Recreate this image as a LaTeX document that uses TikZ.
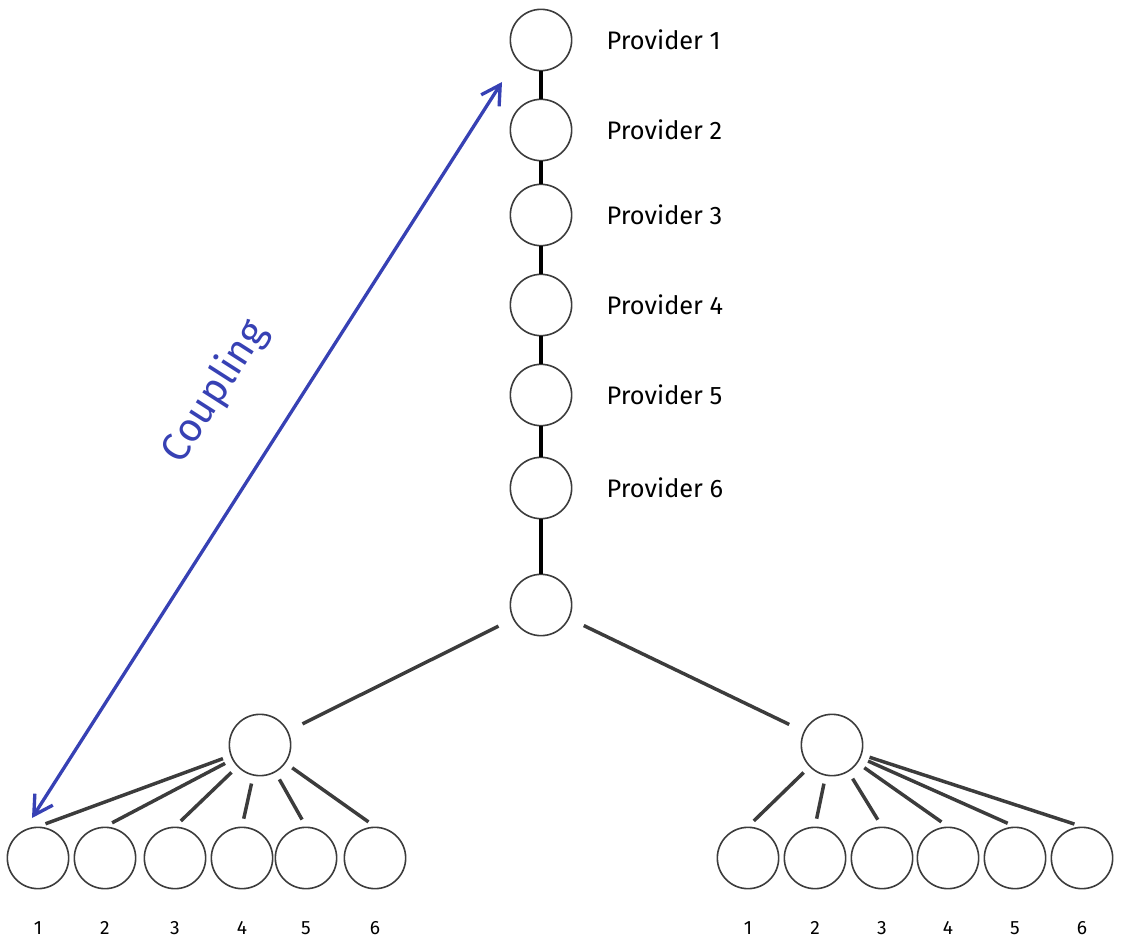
\documentclass[tikz,border=0pt]{standalone}
\usepackage{fontspec}
\setmainfont{Fira Sans}
\usetikzlibrary{arrows.meta}
\definecolor{cblue}{RGB}{55,65,180}
\definecolor{ink}{RGB}{60,60,60}
\begin{document}
\begin{tikzpicture}[x=0.75pt,y=-0.75pt,
  c/.style={circle,draw=ink,line width=1.2pt,minimum size=46pt,inner sep=0pt},
  e/.style={draw=ink,line width=2.6pt,shorten >=6pt,shorten <=6pt},
  lab/.style={anchor=west,font=\fontsize{19}{22}\selectfont},
  num/.style={font=\Large}]
\useasboundingbox (0,0) rectangle (1128,945);
\foreach \i/\y in {1/40,2/130,3/215,4/305,5/395,6/488}{
  \node[c] (p\i) at (541,\y) {};
  \node[lab] (l\i) at (602,\y) {Provider \i};
}
\node[c] (root) at (541,605) {};
\foreach \a/\b in {p1/p2,p2/p3,p3/p4,p4/p5,p5/p6,p6/root}{\draw[draw=black,line width=2.4pt] (\a)--(\b);}
\node[c] (ml) at (260,745) {};
\node[c] (mr) at (832,745) {};
\draw[e,shorten <=12pt,shorten >=12pt] (root)--(ml);
\draw[e,shorten <=12pt,shorten >=12pt] (root)--(mr);
\foreach \i/\x in {1/38,2/105,3/175,4/242,5/306,6/375}{
  \node[c] (a\i) at (\x,858) {};
  \node[num] (na\i) at (\x,928) {\i};
}
\foreach \i/\x in {1/748,2/815,3/882,4/948,5/1015,6/1082}{
  \node[c] (b\i) at (\x,858) {};
  \node[num] (nb\i) at (\x,928) {\i};
}
\foreach \i in {1,...,6}{
  \draw[e] (ml)--(a\i.north);
  \draw[e] (mr)--(b\i.north);
}
\coordinate (t) at (502,82);
\coordinate (s) at (32,818);
\draw[cblue,line width=2.5pt,{Straight Barb[length=14pt,width=16pt]}-{Straight Barb[length=14pt,width=16pt]}] (s)--(t);
\node[text=cblue,font=\fontsize{30}{34}\selectfont,rotate=57.4] (cp) at (215,392) {Coupling};
\end{tikzpicture}
\end{document}
